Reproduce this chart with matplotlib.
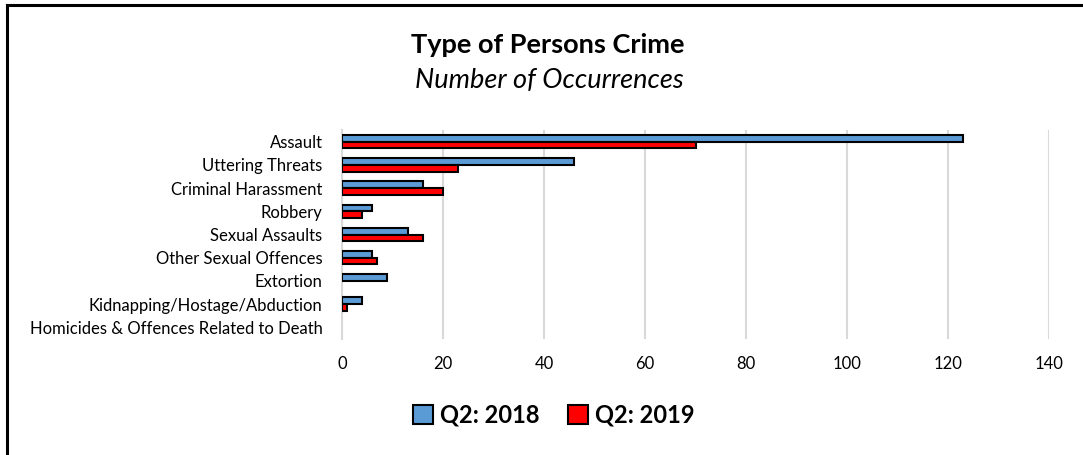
import matplotlib
matplotlib.use("Agg")
import matplotlib.pyplot as plt
from matplotlib.lines import Line2D
from matplotlib.patches import Patch

categories = [
    "Assault",
    "Uttering Threats",
    "Criminal Harassment",
    "Robbery",
    "Sexual Assaults",
    "Other Sexual Offences",
    "Extortion",
    "Kidnapping/Hostage/Abduction",
    "Homicides & Offences Related to Death",
]
q2_2018 = [123, 46, 16, 6, 13, 6, 9, 4, 0]
q2_2019 = [70, 23, 20, 4, 16, 7, 0, 1, 0]
x_ticks = [0, 20, 40, 60, 80, 100, 120, 140]

blue = "#5B9BD5"
red = "#FF0000"
font = "Lato"

plt.rcParams["font.family"] = [font, "DejaVu Sans"]

fig = plt.figure(figsize=(10.83, 4.55), dpi=100)
ax = fig.add_axes([0.3158, 0.2549, 0.6528, 0.4593])

pos = list(range(len(categories)))
h = 0.29
# excel draws nothing for a zero bar, so drop the outline there
ax.barh([p - h / 2 for p in pos], q2_2018, height=h, color=blue,
        edgecolor="black", linewidth=[1.5 if v else 0 for v in q2_2018],
        label="Q2: 2018", zorder=3)
ax.barh([p + h / 2 for p in pos], q2_2019, height=h, color=red,
        edgecolor="black", linewidth=[1.5 if v else 0 for v in q2_2019],
        label="Q2: 2019", zorder=3)

ax.set_ylim(len(categories) - 0.5, -0.5)
ax.set_xlim(0, 140)
ax.set_xticks(x_ticks)
ax.set_yticks(pos)
ax.set_yticklabels(categories, fontsize=12)
ax.tick_params(axis="x", labelsize=12, length=0, pad=12)
ax.tick_params(axis="y", length=0, pad=14)
ax.grid(axis="x", color="#D9D9D9", linewidth=1.5, zorder=0)
for s in ["top", "right", "bottom"]:
    ax.spines[s].set_visible(False)
ax.spines["left"].set_color("#D9D9D9")
ax.spines["left"].set_linewidth(1.5)

fig.text(0.506, 1 - 53 / 455, "Type of Persons Crime", ha="center",
         va="baseline", fontsize=19.5, fontweight="bold")
fig.text(0.507, 1 - 88 / 455, "Number of Occurrences", ha="center",
         va="baseline", fontsize=19.5, style="italic")

handles = [Patch(facecolor=blue, edgecolor="black", linewidth=1.5),
           Patch(facecolor=red, edgecolor="black", linewidth=1.5)]
fig.legend(handles, ["Q2: 2018", "Q2: 2019"], loc="center",
           bbox_to_anchor=(0.511, 1 - 415 / 455), ncol=2, frameon=False,
           prop={"family": font, "size": 17, "weight": "bold"},
           handlelength=0.85, handleheight=0.85, handletextpad=0.3,
           columnspacing=1.2)

# frame lines (top and left only, like the cropped source)
fig.add_artist(Line2D([6.5 / 1083, 1], [1 - 4.5 / 455, 1 - 4.5 / 455],
                      color="black", linewidth=2.2, transform=fig.transFigure))
fig.add_artist(Line2D([6.5 / 1083, 6.5 / 1083], [0, 1 - 4.5 / 455],
                      color="black", linewidth=2.2, transform=fig.transFigure))

fig.savefig("out.png", dpi=100, facecolor="white")
